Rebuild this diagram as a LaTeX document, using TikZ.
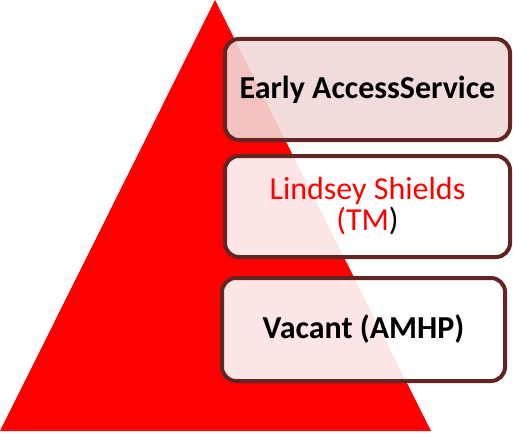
\documentclass[tikz,border=0pt]{standalone}
\usepackage{fontspec}
\setmainfont{Carlito}
\definecolor{boxline}{RGB}{99,37,35}
\definecolor{pinkfill}{RGB}{241,216,215}
\definecolor{pyrred}{RGB}{255,0,0}
\begin{document}
\begin{tikzpicture}[x=1pt,y=-1pt,
  box/.style={draw=boxline, line width=4pt, rounded corners=14pt,
    fill opacity=0.9, draw opacity=1, text opacity=1,
    minimum width=285pt, minimum height=101pt, inner sep=0pt, align=center,
    font=\fontsize{32}{33}\selectfont}]
\useasboundingbox (0,0) rectangle (513,433);
\fill[pyrred] (0,431) -- (215,0) -- (431,431) -- cycle;
\node[box, fill=pinkfill] (top) at (367.5,89.5) {\bfseries Early AccessService};
\node[box, fill=white] (mid) at (367.5,206.5) {\textcolor{pyrred}{Lindsey Shields}\\[-2pt]\textcolor{pyrred}{(TM}\textcolor{black}{)}};
\node[box, fill=white, minimum width=283pt, minimum height=103pt] (bot) at (363.5,329.5) {\bfseries Vacant (AMHP)};
\end{tikzpicture}
\end{document}
